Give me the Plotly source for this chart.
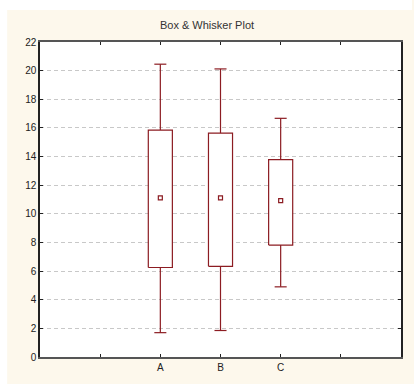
import plotly.graph_objects as go

# ---- data ----
categories = ["A", "B", "C"]
cat_pos = [2, 3, 4]
minimum = [1.7, 1.85, 4.9]
q1 = [6.25, 6.33, 7.82]
midpoint = [11.12, 11.12, 10.92]
q3 = [15.85, 15.63, 13.79]
maximum = [20.45, 20.12, 16.67]
tick_vals_x = [0, 1, 2, 3, 4, 5, 6]
tick_text_x = ["", "", "A", "B", "C", "", ""]
y_ticks = list(range(0, 23, 2))

RED = "#8c1c22"
CREAM = "#fdf8ec"
BOX_HALF = 0.2
CAP_HALF = 0.1

fig = go.Figure()
for c, lo, a, b, hi in zip(cat_pos, minimum, q1, q3, maximum):
    fig.add_trace(go.Scatter(
        x=[c, c, None, c - CAP_HALF, c + CAP_HALF, None, c, c, None, c - CAP_HALF, c + CAP_HALF],
        y=[b, hi, None, hi, hi, None, a, lo, None, lo, lo],
        mode="lines", line=dict(color=RED, width=1.2),
        showlegend=False, hoverinfo="skip",
    ))
    fig.add_trace(go.Scatter(
        x=[c - BOX_HALF, c + BOX_HALF, c + BOX_HALF, c - BOX_HALF, c - BOX_HALF],
        y=[a, a, b, b, a],
        mode="lines", fill="toself", fillcolor="white", line=dict(color=RED, width=1.2),
        showlegend=False, hoverinfo="skip",
    ))
fig.add_trace(go.Scatter(
    x=cat_pos, y=midpoint, mode="markers",
    marker=dict(symbol="square-open", size=4, color=RED, line=dict(color=RED, width=1.2)),
    showlegend=False, hoverinfo="skip",
))

L, R, T, B = 40, 11, 42, 26
W, H = 414, 384
pw, ph = W - L - R, H - T - B

def px_x(p):
    return (p - L) / pw

def px_y(p):
    return (H - B - p) / ph

fig.update_layout(
    width=W, height=H,
    margin=dict(l=L, r=R, t=T, b=B, pad=0),
    paper_bgcolor=CREAM, plot_bgcolor="white",
    font=dict(family="Liberation Sans, Arial, sans-serif", size=10, color="#222"),
    title=dict(text="Box & Whisker Plot", x=0.5, xanchor="center", y=1 - 25 / H, yanchor="middle",
               font=dict(size=11, color="#333")),
    shapes=[
        dict(type="rect", xref="paper", yref="paper", x0=px_x(0), x1=px_x(W), y0=px_y(10), y1=px_y(-5),
             fillcolor="white", line=dict(width=0), layer="below"),
        dict(type="rect", xref="paper", yref="paper", x0=px_x(-5), x1=px_x(7), y0=px_y(H + 5), y1=px_y(-5),
             fillcolor="white", line=dict(width=0), layer="below"),
    ],
    xaxis=dict(range=[0, 6], tickvals=tick_vals_x, ticktext=tick_text_x, showgrid=False, zeroline=False,
               showline=True, linecolor="#555", linewidth=1.5, mirror="allticks",
               ticks="inside", ticklen=3, tickcolor="#222", tickfont=dict(size=10, color="#222")),
    yaxis=dict(range=[0, 22], tickvals=y_ticks, showgrid=True, gridcolor="#c8c8c8", griddash="4px,3px",
               gridwidth=1, zeroline=False, showline=True, linecolor="#222", linewidth=1.5, mirror="allticks",
               ticks="inside", ticklen=3, tickcolor="#222", tickfont=dict(size=10, color="#222")),
)

fig.write_html("out.html")
